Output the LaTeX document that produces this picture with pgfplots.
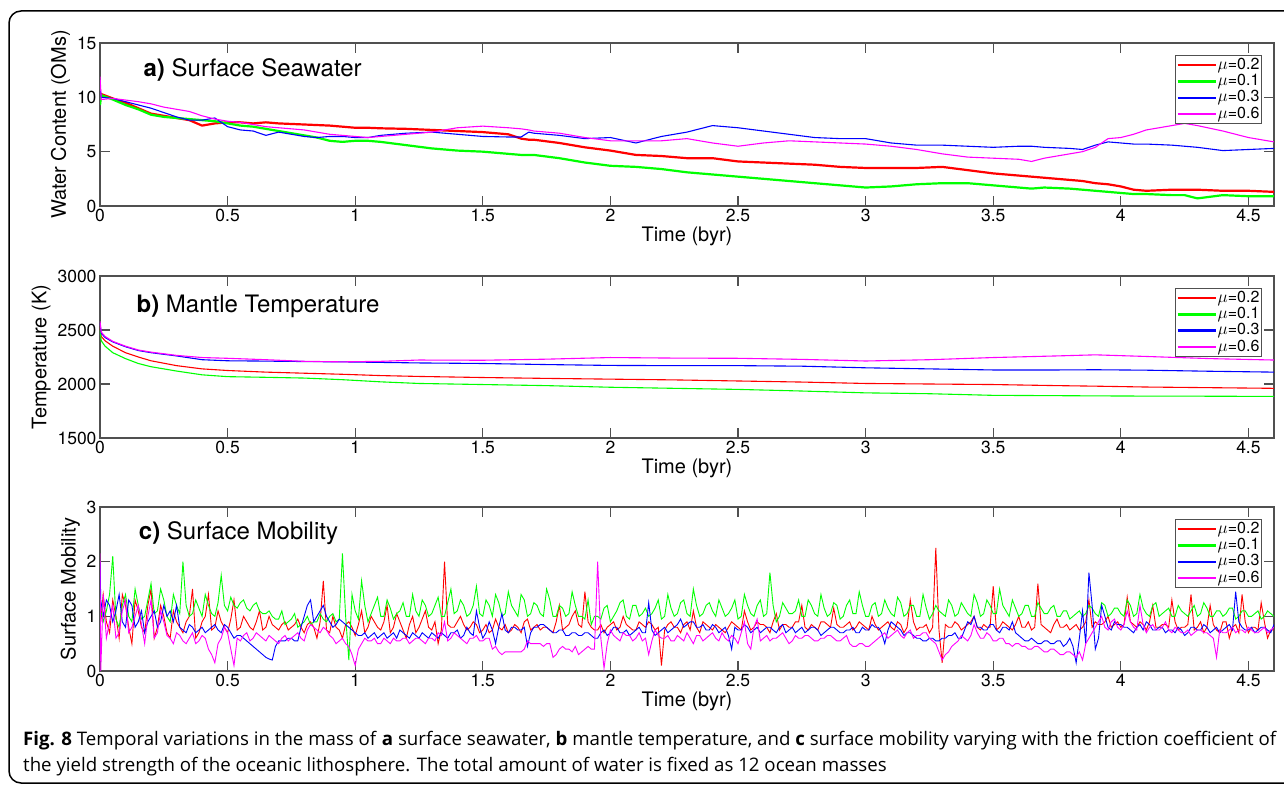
\documentclass[border=0pt]{standalone}
\usepackage{fontspec}
\setmainfont{TeX Gyre Heros}
\newfontfamily\capfont{Open Sans}
\usepackage{graphicx}
\usepackage{pgfplots}
\usepackage{pgfplotstable}
\pgfplotsset{compat=1.18}

\definecolor{mred}{HTML}{FF0000}
\definecolor{mgreen}{HTML}{00FF00}
\definecolor{mblue}{HTML}{0000FF}
\definecolor{mmag}{HTML}{FF00FF}
\definecolor{axgray}{HTML}{505050}

% a) surface seawater (OMs): t, mu=0.2, 0.1, 0.3, 0.6
\pgfplotstableread{
t r g b m
0.000 10.2 9.3 11.0 11.9
0.005 10.3 10.2 10.0 9.8
0.05 9.9 9.8 9.9 9.9
0.10 9.5 9.3 9.6 9.75
0.15 9.0 8.9 9.3 9.6
0.20 8.5 8.4 9.0 9.4
0.25 8.3 8.2 8.6 9.1
0.30 8.1 8.1 8.2 8.9
0.35 7.9 8.0 7.9 8.7
0.40 7.4 7.9 7.9 8.3
0.45 7.6 7.8 8.1 8.0
0.50 7.7 7.6 7.3 7.8
0.55 7.7 7.4 7.0 7.7
0.60 7.6 7.3 6.9 7.5
0.65 7.7 7.1 6.5 7.3
0.70 7.6 6.9 6.8 7.2
0.75 7.55 6.7 6.6 7.1
0.80 7.5 6.5 6.4 7.0
0.85 7.45 6.3 6.3 6.8
0.90 7.4 6.0 6.4 6.6
0.95 7.3 5.9 6.4 6.5
1.00 7.2 6.0 6.3 6.4
1.05 7.2 6.0 6.3 6.3
1.10 7.15 5.9 6.5 6.4
1.20 7.1 5.6 6.7 6.6
1.30 7.0 5.3 6.8 6.8
1.40 6.9 5.1 6.6 7.2
1.50 6.8 5.0 6.4 7.35
1.60 6.6 4.8 6.35 7.2
1.65 6.2 4.7 6.35 7.1
1.68 6.1 4.7 6.8 7.0
1.70 6.1 4.7 6.7 6.9
1.80 5.8 4.4 6.5 6.7
1.90 5.4 4.0 6.2 6.3
2.00 5.1 3.7 6.3 6.0
2.10 4.7 3.6 5.8 6.0
2.20 4.6 3.4 6.4 6.0
2.30 4.4 3.1 6.8 6.2
2.40 4.4 2.9 7.4 5.8
2.50 4.1 2.7 7.2 5.5
2.60 4.0 2.5 6.9 5.8
2.70 3.9 2.3 6.6 6.0
2.80 3.8 2.1 6.3 5.9
2.90 3.6 1.9 6.2 5.8
3.00 3.5 1.7 6.2 5.7
3.10 3.5 1.8 5.8 5.5
3.20 3.5 2.0 5.6 5.2
3.30 3.6 2.1 5.6 4.8
3.40 3.3 2.1 5.5 4.5
3.50 3.0 1.9 5.4 4.4
3.60 2.8 1.7 5.5 4.3
3.65 2.7 1.6 5.5 4.1
3.70 2.6 1.7 5.4 4.4
3.80 2.4 1.6 5.3 4.8
3.85 2.3 1.5 5.2 5.0
3.90 2.1 1.4 5.6 5.4
3.95 2.0 1.3 5.9 6.2
4.00 1.8 1.2 5.8 6.3
4.05 1.5 1.1 5.7 6.6
4.10 1.4 1.1 5.7 7.0
4.20 1.5 1.0 5.6 7.4
4.25 1.5 1.0 5.5 7.6
4.30 1.5 0.7 5.4 7.4
4.40 1.4 1.0 5.1 6.9
4.50 1.4 0.9 5.2 6.3
4.60 1.3 0.9 5.3 5.9
}\tabA

% b) mantle temperature (K)
\pgfplotstableread{
t r g b m
0.000 2540 2500 2565 2580
0.005 2440 2400 2470 2480
0.02 2400 2350 2430 2440
0.05 2350 2290 2390 2395
0.10 2290 2235 2345 2350
0.15 2250 2190 2310 2315
0.20 2215 2160 2290 2295
0.30 2170 2120 2260 2265
0.40 2140 2085 2225 2245
0.50 2125 2068 2215 2238
0.65 2110 2062 2212 2225
0.80 2100 2055 2208 2210
0.95 2090 2040 2205 2205
1.10 2078 2020 2200 2210
1.25 2070 2005 2195 2222
1.50 2060 1995 2190 2220
1.75 2052 1985 2180 2230
2.00 2045 1970 2172 2245
2.25 2038 1960 2170 2240
2.50 2028 1950 2170 2238
2.75 2018 1935 2165 2228
3.00 2005 1918 2150 2213
3.25 2000 1910 2140 2225
3.50 1995 1895 2130 2245
3.75 1985 1892 2130 2260
3.90 1980 1890 2132 2270
4.10 1972 1888 2128 2255
4.35 1966 1887 2118 2235
4.60 1960 1885 2110 2222
}\tabB

% c) surface mobility
\pgfplotstableread{
t r g b m
0.000 1.20 1.50 2.00 2.15
0.003 0.90 1.10 1.30 0.00
0.0125 1.40 0.90 1.00 1.40
0.025 0.90 1.10 1.30 0.60
0.0375 0.70 1.40 1.20 0.90
0.050 1.30 2.10 0.90 1.20
0.0625 1.00 0.95 1.10 0.60
0.075 0.60 0.80 1.40 0.70
0.0875 1.40 1.20 0.90 1.10
0.100 1.20 1.40 0.80 1.30
0.1125 0.80 1.00 1.30 0.70
0.125 0.50 0.90 1.20 0.80
0.1375 1.30 1.50 0.80 1.00
0.150 1.10 1.20 0.90 1.20
0.1625 0.80 0.95 1.10 0.85
0.175 0.70 1.00 0.70 0.50
0.1875 1.20 1.30 0.90 1.00
0.200 1.50 1.60 1.00 1.30
0.2125 0.60 1.05 1.10 0.60
0.225 0.80 1.10 0.80 0.70
0.2375 1.20 1.50 0.90 1.10
0.250 1.00 1.30 1.20 0.90
0.2625 0.70 1.00 1.00 0.65
0.275 0.60 0.90 1.10 0.60
0.2875 1.10 1.40 0.90 0.50
0.300 0.90 1.20 1.20 0.70
0.3125 0.80 1.05 0.80 0.65
0.325 0.70 2.00 0.75 0.55
0.3375 0.90 1.20 0.70 0.50
0.350 1.00 1.00 0.85 0.60
0.3625 1.50 1.05 0.80 0.70
0.375 0.60 1.30 0.70 0.50
0.3875 0.70 1.15 0.75 0.55
0.400 0.90 1.00 0.80 0.65
0.4125 1.00 1.40 0.70 0.60
0.425 1.40 1.20 0.75 0.40
0.4375 0.75 1.05 0.80 0.30
0.450 0.80 1.00 0.85 0.15
0.4625 1.10 1.25 0.75 0.50
0.475 0.90 1.75 0.70 0.60
0.4875 0.80 1.20 0.85 0.80
0.500 0.70 1.10 0.80 0.70
0.5125 0.95 1.35 0.70 0.40
0.525 1.30 1.20 0.60 0.10
0.5375 0.75 1.15 0.65 0.60
0.550 0.80 1.25 0.65 0.55
0.5625 1.00 1.30 0.60 0.65
0.575 0.90 1.15 0.55 0.70
0.5875 0.80 1.10 0.50 0.55
0.600 0.75 1.20 0.45 0.60
0.6125 0.90 1.25 0.40 0.70
0.625 1.10 1.10 0.35 0.65
0.6375 0.75 1.05 0.30 0.60
0.650 0.80 1.05 0.25 0.55
0.6625 1.00 1.10 0.22 0.65
0.675 0.85 1.00 0.20 0.60
0.6875 0.80 0.95 0.45 0.55
0.700 0.75 0.95 0.55 0.50
0.7125 0.85 1.10 0.55 0.60
0.725 0.90 0.85 0.55 0.65
0.7375 0.75 0.90 0.60 0.55
0.750 0.80 0.95 0.60 0.60
0.7625 0.85 1.05 0.55 0.65
0.775 0.95 0.80 0.55 0.70
0.7875 0.80 0.85 0.80 0.60
0.800 0.70 0.90 1.00 0.55
0.8125 0.85 1.00 1.20 0.75
0.825 0.90 0.85 1.30 0.85
0.8375 0.80 0.90 0.90 0.80
0.850 0.60 0.90 1.00 0.75
0.8625 0.90 1.05 1.10 0.70
0.875 1.65 0.95 1.20 0.80
0.8875 0.75 0.90 1.00 0.75
0.900 0.70 1.00 0.90 0.65
0.9125 1.00 1.05 0.80 0.60
0.925 0.80 0.90 0.85 0.50
0.9375 0.75 0.95 0.95 0.55
0.950 0.60 2.15 0.90 0.60
0.9625 0.85 1.00 0.85 0.50
0.975 0.90 0.20 0.80 0.45
0.9875 0.80 1.40 0.75 0.30
1.000 0.65 1.10 0.70 0.10
1.0125 0.85 0.95 0.65 0.40
1.025 1.10 1.65 0.65 0.50
1.0375 0.70 1.20 0.70 0.60
1.050 0.80 0.90 0.60 0.55
1.0625 1.00 1.05 0.65 0.55
1.075 0.90 1.20 0.70 0.60
1.0875 0.80 1.35 0.60 0.50
1.100 0.75 1.00 0.65 0.50
1.1125 0.90 1.00 0.70 0.60
1.125 1.20 1.30 0.60 0.55
1.1375 0.70 1.15 0.65 0.50
1.150 0.80 0.95 0.70 0.60
1.1625 1.05 1.05 0.60 0.55
1.175 0.90 1.10 0.75 0.55
1.1875 0.75 1.25 0.70 0.60
1.200 0.60 1.00 0.65 0.60
1.2125 0.85 1.00 0.60 0.50
1.225 1.00 1.40 0.70 0.55
1.2375 0.70 1.10 0.65 0.60
1.250 0.80 1.00 0.60 0.60
1.2625 0.95 1.30 0.70 0.55
1.275 1.10 1.20 0.65 0.50
1.2875 0.80 1.00 0.60 0.60
1.300 0.75 1.05 0.70 0.60
1.3125 0.90 1.20 0.65 0.55
1.325 0.50 1.35 0.60 0.70
1.3375 0.75 1.00 0.70 0.65
1.350 2.00 1.00 0.65 0.90
1.3625 0.85 1.25 0.60 0.55
1.375 0.80 1.50 0.70 0.60
1.3875 0.80 1.05 0.70 0.70
1.400 0.90 1.10 0.75 0.65
1.4125 1.00 1.30 0.60 0.60
1.425 0.85 1.20 0.65 0.55
1.4375 0.75 1.00 0.80 0.50
1.450 0.80 1.05 0.70 0.60
1.4625 0.90 1.20 0.65 0.60
1.475 0.85 1.55 1.10 0.65
1.4875 0.70 1.05 0.80 0.55
1.500 0.75 1.00 0.60 0.55
1.5125 0.85 1.30 0.70 0.60
1.525 0.70 1.20 0.90 0.60
1.5375 0.75 1.00 0.75 0.40
1.550 0.95 1.40 0.50 0.45
1.5625 0.80 1.25 0.80 0.35
1.575 0.75 1.00 1.05 0.30
1.5875 0.85 1.05 0.75 0.35
1.600 0.70 1.45 0.70 0.35
1.6125 0.75 1.20 0.80 0.35
1.625 0.85 1.10 0.80 0.35
1.6375 0.80 1.00 0.75 0.35
1.650 0.70 1.40 0.75 0.35
1.6625 0.90 1.30 0.80 0.40
1.675 0.95 1.00 0.45 0.55
1.6875 0.75 1.05 0.70 0.50
1.700 0.80 1.25 0.80 0.50
1.7125 0.85 1.20 0.80 0.50
1.725 0.75 1.05 0.85 0.50
1.7375 0.80 1.00 0.85 0.45
1.750 0.80 1.50 0.80 0.50
1.7625 0.75 1.30 0.75 0.50
1.775 0.70 1.00 0.70 0.25
1.7875 0.90 1.00 0.70 0.30
1.800 1.20 1.20 0.75 0.40
1.8125 0.75 1.15 0.75 0.45
1.825 0.80 1.00 0.65 0.40
1.8375 0.85 1.05 0.65 0.40
1.850 1.00 1.45 0.70 0.35
1.8625 1.10 1.20 0.70 0.45
1.875 0.85 1.00 0.65 0.30
1.8875 0.80 1.00 0.65 0.35
1.900 1.45 0.95 0.70 0.40
1.9125 0.90 1.30 0.70 0.45
1.925 0.80 0.85 0.65 0.40
1.9375 0.75 1.00 0.60 0.40
1.950 0.75 1.00 0.60 2.00
1.9625 0.85 0.95 0.70 0.60
1.975 0.70 1.15 0.75 0.05
1.9875 0.80 1.20 0.65 0.50
2.000 0.85 0.90 0.70 0.75
2.0125 0.90 1.00 0.80 0.65
2.025 0.75 1.10 0.80 0.60
2.0375 0.80 1.25 0.70 0.55
2.050 1.00 1.30 0.70 0.70
2.0625 0.85 1.00 0.75 0.65
2.075 0.80 0.95 0.65 0.65
2.0875 0.75 1.20 0.70 0.55
2.100 0.75 1.20 0.75 0.60
2.1125 0.90 1.00 0.80 0.70
2.125 0.85 1.05 0.70 0.55
2.1375 0.80 1.15 0.70 0.60
2.150 0.90 1.00 1.25 0.30
2.1625 0.85 1.05 0.75 0.55
2.175 0.75 1.15 0.65 0.75
2.1875 0.80 1.30 0.70 0.65
2.200 0.10 0.95 0.75 0.60
2.2125 0.75 1.00 0.80 0.60
2.225 0.85 1.40 0.70 0.65
2.2375 0.90 1.15 0.75 0.55
2.250 0.80 1.00 0.80 0.55
2.2625 0.80 1.05 0.85 0.65
2.275 0.70 1.25 0.95 0.60
2.2875 0.85 1.30 0.80 0.55
2.300 0.90 1.05 0.85 0.70
2.3125 0.75 1.00 0.90 0.60
2.325 1.10 1.50 0.90 0.50
2.3375 0.80 1.20 0.80 0.65
2.350 0.70 1.00 0.80 0.65
2.3625 0.90 1.05 0.85 0.55
2.375 0.85 1.20 0.75 0.60
2.3875 0.80 1.25 0.75 0.65
2.400 0.75 1.10 0.85 0.70
2.4125 0.85 1.00 0.80 0.60
2.425 0.80 1.30 0.70 0.55
2.4375 0.75 1.15 0.75 0.70
2.450 0.70 1.00 0.80 0.60
2.4625 0.80 1.05 0.65 0.55
2.475 0.90 1.15 0.40 0.65
2.4875 0.85 1.30 0.80 0.60
2.500 0.80 0.95 0.75 0.50
2.5125 0.75 1.00 0.75 0.70
2.525 1.10 1.40 0.85 0.90
2.5375 0.90 1.20 0.80 0.50
2.550 0.75 1.05 0.70 0.40
2.5625 0.80 1.00 0.75 0.80
2.575 0.90 1.20 0.80 0.95
2.5875 0.85 1.30 0.70 0.55
2.600 0.85 1.00 0.75 0.60
2.6125 0.80 1.05 0.80 0.65
2.625 0.70 1.80 0.80 0.55
2.6375 0.90 1.20 0.75 0.60
2.650 1.05 0.90 0.70 0.60
2.6625 0.75 1.00 0.80 0.65
2.675 0.85 1.25 0.85 0.70
2.6875 0.85 1.15 0.70 0.60
2.700 0.80 1.05 0.75 0.50
2.7125 0.80 1.05 0.80 0.55
2.725 0.90 1.10 0.70 0.65
2.7375 0.90 1.30 0.75 0.60
2.750 1.20 1.00 0.80 0.60
2.7625 0.80 1.00 0.70 0.65
2.775 0.75 1.30 0.75 0.65
2.7875 0.85 1.20 0.80 0.60
2.800 0.80 1.05 0.80 0.55
2.8125 0.75 1.00 0.75 0.55
2.825 0.90 1.40 0.65 0.60
2.8375 0.90 1.15 0.70 0.60
2.850 0.85 1.00 0.75 0.65
2.8625 0.80 1.05 0.80 0.65
2.875 1.15 1.25 0.80 0.60
2.8875 0.85 1.20 0.75 0.55
2.900 0.80 0.95 0.70 0.55
2.9125 0.80 1.00 0.70 0.60
2.925 0.85 1.20 0.75 0.65
2.9375 0.90 1.30 0.75 0.50
2.950 0.75 1.05 0.80 0.45
2.9625 0.80 1.05 0.70 0.45
2.975 0.90 1.45 0.70 0.50
2.9875 0.85 1.20 0.80 0.50
3.000 0.80 1.00 0.75 0.45
3.0125 0.75 1.00 0.75 0.45
3.025 1.00 1.20 0.85 0.50
3.0375 0.85 1.25 0.80 0.55
3.050 0.75 1.00 0.80 0.60
3.0625 0.80 1.05 0.70 0.65
3.075 0.85 1.30 0.50 0.70
3.0875 0.90 1.15 0.75 0.60
3.100 0.80 1.05 0.90 0.65
3.1125 0.75 1.00 0.85 0.70
3.125 0.90 1.35 0.80 0.75
3.1375 0.85 1.25 0.75 0.65
3.150 0.70 1.00 0.65 0.60
3.1625 0.80 1.05 0.70 0.70
3.175 1.30 1.20 0.70 0.75
3.1875 0.90 1.20 0.65 0.60
3.200 0.75 1.00 0.60 0.65
3.2125 0.80 1.00 0.60 0.65
3.225 0.80 1.40 0.55 0.70
3.2375 0.85 1.15 0.55 0.70
3.250 0.70 0.95 0.60 0.60
3.2625 0.80 1.05 0.60 0.55
3.275 2.25 1.20 0.55 0.50
3.2875 0.75 1.10 0.55 0.35
3.300 0.15 1.05 0.60 0.20
3.3125 0.85 1.00 0.60 0.30
3.325 0.80 1.30 0.65 0.35
3.3375 0.80 1.20 0.65 0.45
3.350 0.90 1.00 0.70 0.50
3.3625 0.85 1.05 0.60 0.55
3.375 0.75 1.25 0.60 0.65
3.3875 0.80 1.15 0.75 0.60
3.400 0.85 1.05 0.90 0.55
3.4125 0.90 1.00 0.85 0.65
3.425 1.00 1.40 1.00 0.85
3.4375 0.80 1.25 0.80 0.70
3.450 0.75 1.00 0.80 0.60
3.4625 0.85 1.05 0.75 0.60
3.475 0.80 1.30 0.75 0.70
3.4875 0.80 1.20 0.85 0.65
3.500 1.55 1.05 0.85 0.55
3.5125 0.75 1.05 0.75 0.55
3.525 0.80 1.50 0.70 0.60
3.5375 0.90 1.20 0.80 0.60
3.550 0.85 1.10 0.80 0.50
3.5625 0.80 1.00 0.75 0.50
3.575 0.75 1.30 0.90 0.45
3.5875 0.85 1.15 0.70 0.50
3.600 1.00 1.00 0.65 0.50
3.6125 0.80 1.05 0.60 0.45
3.625 0.80 1.20 0.55 0.45
3.6375 0.90 1.20 0.55 0.40
3.650 0.75 1.00 0.60 0.40
3.6625 0.80 1.00 0.55 0.45
3.675 1.60 1.25 0.50 0.45
3.6875 0.85 1.15 0.50 0.40
3.700 0.80 1.05 0.55 0.35
3.7125 0.75 1.05 0.55 0.35
3.725 0.70 1.15 0.50 0.40
3.7375 0.85 1.20 0.50 0.40
3.750 0.95 1.00 0.55 0.35
3.7625 0.80 1.00 0.55 0.30
3.775 0.80 1.10 0.45 0.30
3.7875 0.85 1.10 0.50 0.35
3.800 0.75 0.95 0.60 0.35
3.8125 0.80 1.00 0.45 0.30
3.825 0.85 1.05 0.15 0.25
3.8375 0.75 1.10 0.60 0.35
3.850 0.80 1.00 1.10 0.20
3.8625 0.90 1.05 0.50 0.50
3.875 1.30 1.20 1.80 0.60
3.8875 0.80 1.15 1.20 0.70
3.900 0.90 1.05 0.40 0.80
3.9125 0.85 1.00 0.60 0.90
3.925 0.85 1.25 1.20 1.00
3.9375 0.90 1.20 1.00 0.80
3.950 1.00 1.00 0.80 0.75
3.9625 0.80 1.05 0.75 0.90
3.975 0.85 1.15 0.90 0.95
3.9875 0.90 1.15 0.85 0.80
4.000 0.80 1.05 0.85 0.75
4.0125 0.85 1.00 0.80 0.85
4.025 1.35 1.30 0.80 1.10
4.0375 0.90 1.20 0.75 0.90
4.050 0.85 1.00 0.70 0.80
4.0625 0.80 1.05 0.80 0.75
4.075 0.90 1.40 0.85 1.20
4.0875 0.85 1.15 0.75 0.85
4.100 0.75 1.05 0.90 0.70
4.1125 0.90 1.00 0.85 0.80
4.125 1.20 1.20 0.75 0.85
4.1375 0.80 1.25 0.75 0.75
4.150 0.80 1.00 0.80 0.75
4.1625 0.85 1.05 0.80 0.80
4.175 0.85 1.10 0.70 0.90
4.1875 0.80 1.15 0.75 0.75
4.200 1.30 1.00 0.75 0.70
4.2125 0.90 1.00 0.70 0.80
4.225 0.75 1.20 0.80 0.75
4.2375 0.80 1.10 0.75 0.70
4.250 0.80 1.05 0.65 0.70
4.2625 0.85 1.00 0.70 0.75
4.275 1.40 1.10 0.80 0.65
4.2875 0.75 1.20 0.80 0.70
4.300 0.80 1.00 0.75 0.75
4.3125 0.90 1.05 0.75 0.75
4.325 0.70 1.25 0.85 0.70
4.3375 0.80 1.15 0.80 0.70
4.350 1.20 1.00 0.70 0.65
4.3625 0.85 1.00 0.75 0.60
4.375 0.75 1.10 0.80 0.25
4.3875 0.70 1.10 0.70 0.75
4.400 0.90 1.00 0.75 0.70
4.4125 0.90 1.05 0.80 0.70
4.425 0.60 1.15 0.85 0.75
4.4375 0.80 1.15 0.75 0.80
4.450 0.85 0.95 1.45 0.70
4.4625 0.70 1.00 0.90 0.75
4.475 1.40 1.10 0.80 0.75
4.4875 0.90 1.10 0.75 0.70
4.500 0.70 1.00 0.75 0.80
4.5125 0.80 1.00 0.80 0.75
4.525 0.80 1.05 0.70 0.70
4.5375 0.75 1.10 0.75 0.70
4.550 1.25 0.95 0.80 0.75
4.5625 0.90 1.00 0.80 0.80
4.575 0.60 1.10 0.75 0.70
4.5875 0.75 1.05 0.70 0.75
4.600 0.75 1.00 0.85 0.80
}\tabC

\tikzset{ptitle/.style={anchor=west, inner sep=0pt, font=\fontsize{24}{26}\selectfont}}

\pgfplotsset{
  panel/.style={
    scale only axis, width=1174pt,
    xmin=0, xmax=4.6,
    xtick={0,0.5,1,1.5,2,2.5,3,3.5,4,4.5},
    xticklabels={0,0.5,1,1.5,2,2.5,3,3.5,4,4.5},
    tick pos=both, tick align=inside,
    major tick length=10pt,
    axis line style={axgray, line width=1.2pt},
    every tick/.style={axgray, line width=1.2pt},
    /pgf/number format/assume math mode=true,
    every tick label/.append style={font=\fontsize{17.5}{19}\selectfont},
    label style={font=\fontsize{20}{22}\selectfont},
    xlabel={Time (byr)},
    xlabel style={yshift=2pt},
    legend style={at={(0.99,0.926)}, anchor=north east,
      draw=axgray, line width=0.9pt, inner sep=1.5pt,
      font=\fontsize{16}{16}\selectfont, row sep=0pt,
      nodes={inner sep=0.8pt, text height=11.5pt, text depth=3.2pt}},
    legend cell align=left,
    legend image code/.code={\draw[##1, line width=2.4pt] (0pt,0pt) -- (38pt,0pt);},
    clip=true,
  },
}

\begin{document}
\begin{tikzpicture}
\useasboundingbox (0pt,0pt) rectangle (1284pt,-789pt);
\draw[black, line width=1.5pt, rounded corners=12pt] (9pt,-11pt) rectangle (1310pt,-783pt);

% panel a
\begin{axis}[panel, at={(100pt,-206pt)}, anchor=south west, height=163pt,
  ymin=0, ymax=15, ytick={0,5,10,15},
  ylabel={Water Content (OMs)}]
\addplot[mred, line width=2.2pt] table[x=t, y=r] {\tabA};
\addplot[mgreen, line width=2.2pt] table[x=t, y=g] {\tabA};
\addplot[mblue, line width=1.1pt] table[x=t, y=b] {\tabA};
\addplot[mmag, line width=1.1pt] table[x=t, y=m] {\tabA};
\legend{$\mu$=0.2, $\mu$=0.1, $\mu$=0.3, $\mu$=0.6}
\node[ptitle] at (rel axis cs:0.037,0.834) {\textbf{a)} Surface Seawater};
\end{axis}

% panel b
\begin{axis}[panel, at={(100pt,-438pt)}, anchor=south west, height=162pt,
  ymin=1500, ymax=3000, ytick={1500,2000,2500,3000},
  yticklabels={1500,2000,2500,3000},
  ylabel={Temperature (K)}]
\addplot[mred, line width=1.1pt] table[x=t, y=r] {\tabB};
\addplot[mgreen, line width=1.1pt] table[x=t, y=g] {\tabB};
\addplot[mblue, line width=1.1pt] table[x=t, y=b] {\tabB};
\addplot[mmag, line width=1.1pt] table[x=t, y=m] {\tabB};
\legend{$\mu$=0.2, $\mu$=0.1, $\mu$=0.3, $\mu$=0.6}
\node[ptitle] at (rel axis cs:0.031,0.81) {\textbf{b)} Mantle Temperature};
\end{axis}

% panel c
\begin{axis}[panel, at={(100pt,-671pt)}, anchor=south west, height=164pt,
  ymin=0, ymax=3, ytick={0,1,2,3},
  ylabel={Surface Mobility}]
\addplot[mred, line width=0.9pt] table[x=t, y=r] {\tabC};
\addplot[mgreen, line width=0.9pt] table[x=t, y=g] {\tabC};
\addplot[mblue, line width=0.9pt] table[x=t, y=b] {\tabC};
\addplot[mmag, line width=0.9pt] table[x=t, y=m] {\tabC};
\legend{$\mu$=0.2, $\mu$=0.1, $\mu$=0.3, $\mu$=0.6}
\node[ptitle] at (rel axis cs:0.033,0.84) {\textbf{c)} Surface Mobility};
\end{axis}

\node[anchor=base west, inner sep=0pt] at (23pt,-745pt) {\resizebox{1253pt}{!}{\capfont\fontsize{18}{26}\selectfont
  \begin{tabular}[t]{@{}l@{}}
  \textbf{Fig. 8} Temporal variations in the mass of \textbf{a} surface seawater, \textbf{b} mantle temperature, and \textbf{c} surface mobility varying with the friction coefficient of\\
  the yield strength of the oceanic lithosphere. The total amount of water is fixed as 12 ocean masses
  \end{tabular}}};
\end{tikzpicture}
\end{document}
